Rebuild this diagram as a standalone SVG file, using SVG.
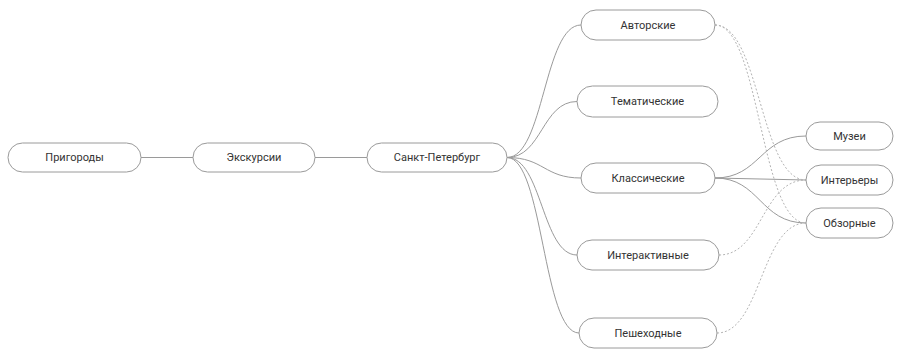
<svg xmlns="http://www.w3.org/2000/svg" width="908" height="354" viewBox="0 0 908 354">
<style>
.n rect{fill:#fff;stroke:#9a9a9a;stroke-width:1}
.n text{font-family:Roboto,"Liberation Sans",sans-serif;font-size:11px;fill:#333;text-anchor:middle;dominant-baseline:central}
.c path{fill:none;stroke:#9a9a9a;stroke-width:1}
.c path.d{stroke:#b4b4b4;stroke-dasharray:2 2}
</style>
<rect width="908" height="354" fill="#fff"/>
<g id="connectors" class="c">
<path d="M141 157.5 L193 157.5"/>
<path d="M315 157.5 L367 157.5"/>
<path d="M507 157.5 C544 157.5 544 25 581 25"/>
<path d="M507 157.5 C542 157.5 542 101.5 577 101.5"/>
<path d="M507 157.5 C544 157.5 544 178 581 178"/>
<path d="M507 157.5 C542 157.5 542 255 577 255"/>
<path d="M507 157.5 C543 157.5 543 333 579 333"/>
<path d="M715 178 C760 178 760 136 806 136"/>
<path d="M715 178 L806 180"/>
<path d="M715 178 C760 178 760 223 806 223"/>
<path class="d" d="M715 25 C760 25 760 180 806 180"/>
<path class="d" d="M715 25 C760 25 760 223 806 223"/>
<path class="d" d="M719 255 C762 255 762 180 806 180"/>
<path class="d" d="M717 333 C761 333 761 223 806 223"/>
</g>
<g id="n-prigorody" class="n"><rect x="8" y="143" width="133" height="29" rx="14.5"/><text x="74.5" y="157.5">Пригороды</text></g>
<g id="n-ekskursii" class="n"><rect x="193" y="143" width="122" height="29" rx="14.5"/><text x="254" y="157.5">Экскурсии</text></g>
<g id="n-spb" class="n"><rect x="367" y="143" width="140" height="29" rx="14.5"/><text x="437" y="157.5">Санкт-Петербург</text></g>
<g id="n-avtorskie" class="n"><rect x="581" y="10" width="134" height="30" rx="15"/><text x="648" y="25">Авторские</text></g>
<g id="n-tematicheskie" class="n"><rect x="577" y="86" width="141" height="31" rx="15.5"/><text x="647.5" y="101.5">Тематические</text></g>
<g id="n-klassicheskie" class="n"><rect x="581" y="163" width="134" height="30" rx="15"/><text x="648" y="178">Классические</text></g>
<g id="n-interaktivnye" class="n"><rect x="577" y="240" width="142" height="30" rx="15"/><text x="648" y="255">Интерактивные</text></g>
<g id="n-peshehodnye" class="n"><rect x="579" y="318" width="138" height="30" rx="15"/><text x="648" y="333">Пешеходные</text></g>
<g id="n-muzei" class="n"><rect x="806" y="122" width="87" height="28" rx="14"/><text x="849.5" y="136">Музеи</text></g>
<g id="n-interiery" class="n"><rect x="806" y="165" width="87" height="30" rx="15"/><text x="849.5" y="180">Интерьеры</text></g>
<g id="n-obzornye" class="n"><rect x="806" y="208" width="87" height="30" rx="15"/><text x="849.5" y="223">Обзорные</text></g>
</svg>
